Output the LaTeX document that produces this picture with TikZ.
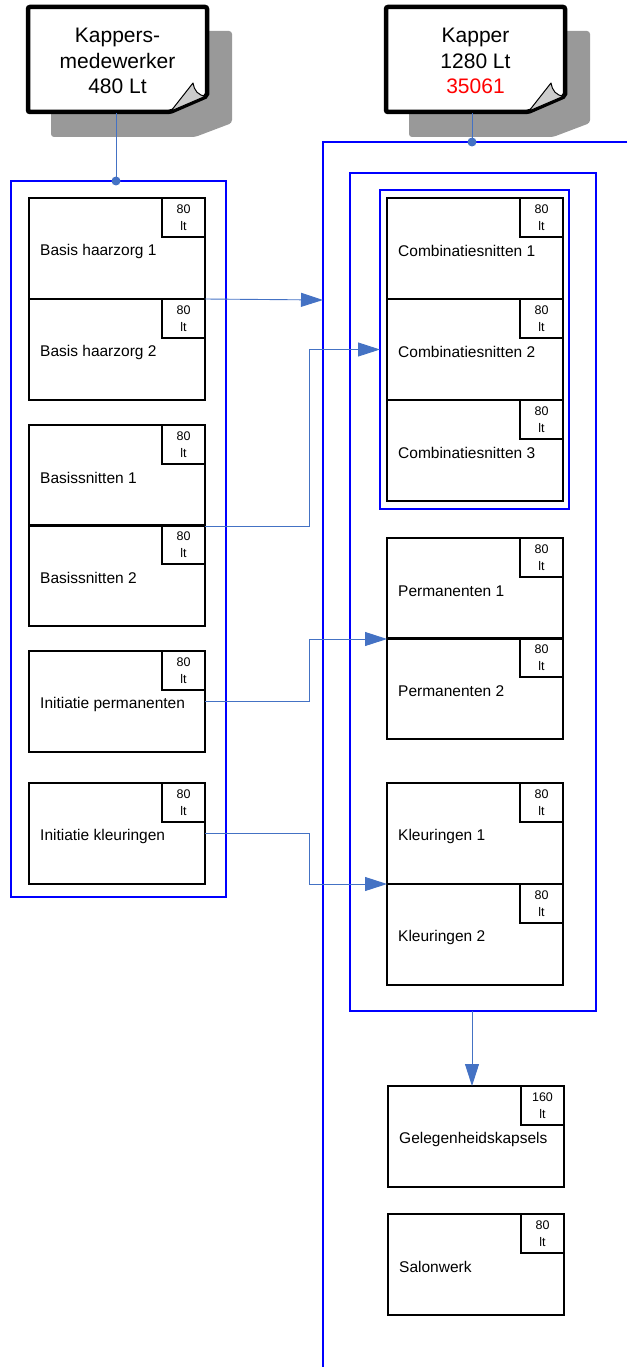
\documentclass[tikz,border=0pt]{standalone}
\usepackage{fontspec}
\setmainfont{Liberation Sans}
\usetikzlibrary{arrows.meta}
\definecolor{conn}{RGB}{68,114,196}
\definecolor{shad}{RGB}{153,153,153}
\definecolor{foldc}{RGB}{204,204,204}
\newcommand\crs[5]{%
  \node[course] (#1) at (#2,#3) {};
  \node[hrs] (#1h) at (#1.north east) {#5};
  \node[lbl] (#1l) at ([xshift=11pt,yshift=-53pt]#1.north west) {#4};
}
\newcommand\notebox[3]{%
  \begin{scope}[xshift=#2]
    \fill[shad, rounded corners=3pt] (51,31) -- (232,31) -- (232,123) -- (195,137) -- (51,137) -- cycle;
    \draw[line width=4.5pt, fill=white, rounded corners=2pt] (28,7) -- (207,7) -- (207,96) -- (170,112) -- (28,112) -- cycle;
    \filldraw[fill=foldc, line width=1pt, line join=round] (171,111) -- (193,83) .. controls (194,90) and (198,96) .. (206,96) -- cycle;
    \node[notetext] (#1) at (28,8.5) {#3};
  \end{scope}
}
\begin{document}
\begin{tikzpicture}[x=1pt,y=-1pt,
  course/.style={draw, line width=1.5pt, minimum width=176pt, minimum height=101pt, anchor=north west, inner sep=0, outer sep=0},
  hrs/.style={draw, line width=1.2pt, minimum width=43pt, minimum height=39pt, anchor=north east, inner sep=0, outer sep=0, align=center, font=\fontsize{12.5}{16.5}\selectfont},
  lbl/.style={anchor=west, inner sep=0, font=\fontsize{15.5}{18}\selectfont},
  bluebox/.style={draw=blue, line width=1.8pt, anchor=north west, inner sep=0, outer sep=0},
  notetext/.style={minimum width=179pt, minimum height=105pt, inner sep=0, outer sep=0, anchor=north west, align=center, font=\fontsize{21}{25.5}\selectfont},
  connector/.style={draw=conn, line width=0.9pt},
  arr/.style={connector, -{Triangle[length=22pt,width=14pt]}},
  dot/.style={fill=conn}
]
\useasboundingbox (0,0) rectangle (627,1367);

% notes
\notebox{noteL}{0pt}{Kappers-\\medewerker\\480 Lt}
\notebox{noteR}{358pt}{Kapper\\1280 Lt\\\textcolor{red}{35061}}

% blue frames
\node[bluebox, minimum width=215pt, minimum height=716pt] (leftbox) at (11,181) {};
\draw[blue, line width=1.8pt] (627,142) -- (323,142) -- (323,1367);
\node[bluebox, minimum width=246pt, minimum height=838pt] (mid) at (350,173) {};
\node[bluebox, minimum width=189pt, minimum height=319pt] (combo) at (380,190) {};

% left column
\crs{bh1}{29}{198}{Basis haarzorg 1}{80\\lt}
\crs{bh2}{29}{299}{Basis haarzorg 2}{80\\lt}
\crs{bs1}{29}{425}{Basissnitten 1}{80\\lt}
\crs{bs2}{29}{525}{Basissnitten 2}{80\\lt}
\crs{ip}{29}{651}{Initiatie permanenten}{80\\lt}
\crs{ik}{29}{783}{Initiatie kleuringen}{80\\lt}

% right column
\crs{cs1}{387}{198}{Combinatiesnitten 1}{80\\lt}
\crs{cs2}{387}{299}{Combinatiesnitten 2}{80\\lt}
\crs{cs3}{387}{400}{Combinatiesnitten 3}{80\\lt}
\crs{pm1}{387}{538}{Permanenten 1}{80\\lt}
\crs{pm2}{387}{638}{Permanenten 2}{80\\lt}
\crs{kl1}{387}{783}{Kleuringen 1}{80\\lt}
\crs{kl2}{387}{884}{Kleuringen 2}{80\\lt}
\crs{gk}{388}{1086}{Gelegenheidskapsels}{160\\lt}
\crs{sw}{388}{1214}{Salonwerk}{80\\lt}

% connectors
\coordinate (topL) at (116,181);
\coordinate (topR) at (472,142);
\coordinate (outerA) at (323,300);
\draw[connector] (noteL.south -| topL) -- (topL);
\fill[dot] (topL) circle (4.5pt);
\draw[connector] (noteR.south -| topR) -- (topR);
\fill[dot] (topR) circle (4.5pt);

\draw[arr] (bh1.south east) -- (outerA);
\draw[arr] (bs1.south east) -- ++(104,0) |- (combo.west);
\draw[arr] (ip.east) -- ++(104,0) |- (pm1.south west);
\draw[arr] (ik.east) -- ++(104,0) |- (kl1.south west);
\draw[arr] (mid.south -| topR) -- (gk.north -| topR);
\end{tikzpicture}
\end{document}
